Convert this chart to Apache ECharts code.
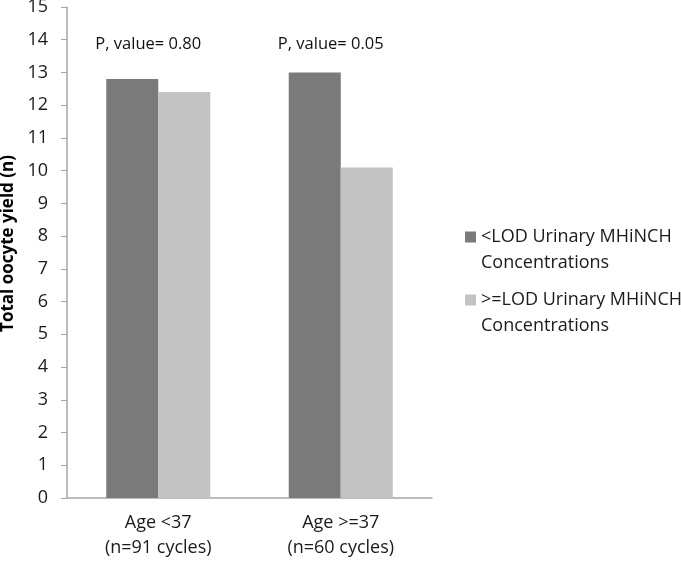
<!DOCTYPE html>
<html><head><meta charset="utf-8">
<script src="https://cdn.jsdelivr.net/npm/echarts@6/dist/echarts.min.js"></script>
<style>html,body{margin:0;padding:0;background:#fff}#c{width:681px;height:562px}</style>
</head><body><div id="c"></div>
<script>
const categories = ["Age <37\n(n=91 cycles)", "Age >=37\n(n=60 cycles)"];
const seriesNames = ["<LOD Urinary MHiNCH\nConcentrations", ">=LOD Urinary MHiNCH\nConcentrations"];
const belowLOD = [12.8, 13.0];
const aboveLOD = [12.4, 10.1];
const pValues = ["P, value= 0.80", "P, value= 0.05"];
const pValueY = 13.87;

const font = "'Open Sans', sans-serif";
const chart = echarts.init(document.getElementById('c'), null, {renderer: 'canvas'});
chart.setOption({
  animation: false,
  textStyle: {fontFamily: font},
  grid: {left: 67, right: 249, top: 7, bottom: 64, containLabel: false, outerBoundsMode: 'none'},
  legend: {
    orient: 'vertical', left: 460, top: 219,
    itemWidth: 11, itemHeight: 37, itemGap: 11,
    icon: 'path://M0,0h11v11h-11z M0,37h0.01',
    textStyle: {fontFamily: font, fontSize: 18, color: '#1a1a1a', lineHeight: 26}
  },
  xAxis: {
    type: 'category', data: categories,
    axisLine: {lineStyle: {color: '#a6a6a6', width: 1.5}},
    axisTick: {show: false},
    axisLabel: {fontFamily: font, fontSize: 18, color: '#1a1a1a', lineHeight: 25, margin: 12}
  },
  yAxis: {
    type: 'value', min: 0, max: 15, interval: 1,
    name: 'Total oocyte yield (n)', nameLocation: 'middle', nameGap: 43, nameRotate: 90,
    nameTextStyle: {fontFamily: font, fontSize: 17, fontWeight: 'bold', color: '#000', padding: [0, 0, 0, 18]},
    axisLine: {show: true, lineStyle: {color: '#a6a6a6', width: 1.5}},
    axisTick: {show: true, length: 6, lineStyle: {color: '#a6a6a6'}},
    splitLine: {show: false},
    axisLabel: {fontFamily: font, fontSize: 18, color: '#1a1a1a', margin: 19}
  },
  series: [
    {
      name: seriesNames[0], type: 'bar', data: belowLOD,
      barGap: '0%', barCategoryGap: '43%',
      itemStyle: {color: '#7a7a7a'},
      markPoint: {
        symbol: 'rect', symbolSize: 0,
        label: {show: true, formatter: p => p.name, fontFamily: font, fontSize: 16.5, color: '#111', offset: [16, 0]},
        data: pValues.map((t, i) => ({name: t, coord: [i, pValueY], value: t}))
      }
    },
    {
      name: seriesNames[1], type: 'bar', data: aboveLOD,
      barGap: '0%', barCategoryGap: '43%',
      itemStyle: {color: '#c3c3c3'}
    }
  ]
});
</script></body></html>
